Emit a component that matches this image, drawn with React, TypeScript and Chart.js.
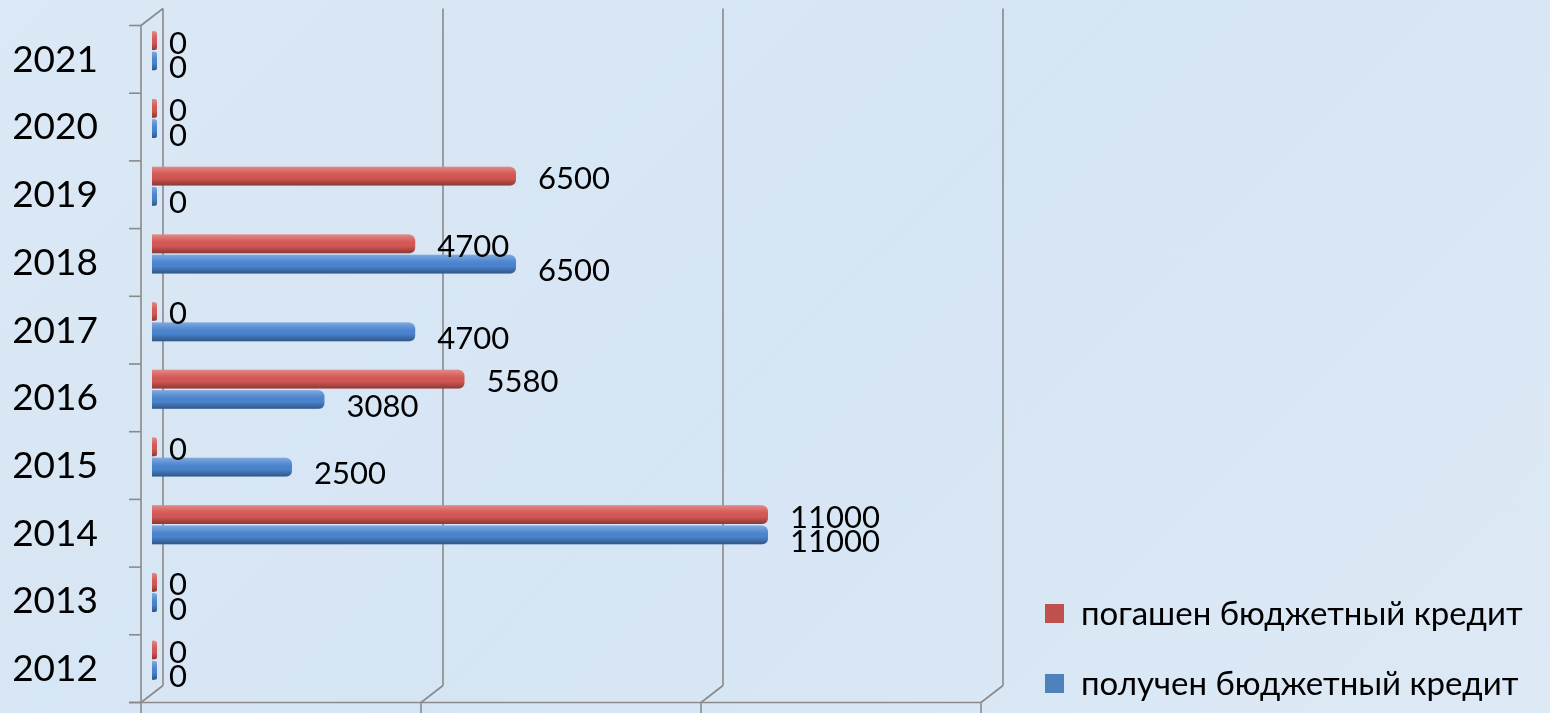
import React, { useEffect, useRef } from "react";
import { Chart, registerables } from "chart.js";

Chart.register(...registerables);

// ---- data ----
const years = ["2012", "2013", "2014", "2015", "2016", "2017", "2018", "2019", "2020", "2021"];
const repaid = [0, 0, 11000, 0, 5580, 0, 4700, 6500, 0, 0]; // погашен бюджетный кредит
const received = [0, 0, 11000, 2500, 3080, 4700, 6500, 0, 0, 0]; // получен бюджетный кредит
const seriesNames = ["погашен бюджетный кредит", "получен бюджетный кредит"];
const xTicks = [0, 5000, 10000, 15000];
const xMax = 15000;

// ---- style ----
const FONT = "Lato, 'Open Sans', 'Noto Sans', sans-serif";
const RED = "#D55753";
const BLUE = "#4A84CF";
const LEGEND_RED = "#C0504D";
const LEGEND_BLUE = "#4F81BD";
const LINE = "#8a8a8a";
const DX = 11;
const DY = 8.5;

const framePlugin = {
  id: "frame3d",
  beforeDatasetsDraw(chart: any) {
    const { ctx, chartArea } = chart;
    const xs = chart.scales.x;
    const { left, top, bottom } = chartArea;
    ctx.save();
    ctx.strokeStyle = LINE;
    ctx.lineWidth = 1.6;
    const line = (x1: number, y1: number, x2: number, y2: number) => {
      ctx.beginPath();
      ctx.moveTo(x1, y1);
      ctx.lineTo(x2, y2);
      ctx.stroke();
    };
    // back wall grid lines + floor diagonals + front ticks
    xTicks.forEach((v) => {
      const px = xs.getPixelForValue(v);
      line(px + DX, top - DY, px + DX, bottom - DY);
      line(px + DX, bottom - DY, px - DX, bottom + DY);
      line(px - DX, bottom + DY, px - DX, bottom + DY + 14);
    });
    // left wall front edge and top diagonal
    const fx = left - DX;
    line(fx, top + DY, fx, bottom + DY);
    line(fx, top + DY, left + DX, top - DY);
    // floor front edge
    line(fx - 12, bottom + DY, xs.getPixelForValue(xMax) - DX, bottom + DY);
    // category ticks on the front edge
    const n = years.length;
    for (let i = 0; i <= n; i++) {
      const y = top + (i * (bottom - top)) / n + DY;
      line(fx - 12, y, fx, y);
    }
    ctx.restore();
  },
  afterDatasetsDraw(chart: any) {
    const { ctx } = chart;
    ctx.save();
    chart.data.datasets.forEach((ds: any, di: number) => {
      const meta = chart.getDatasetMeta(di);
      meta.data.forEach((el: any) => {
        const p = el.getProps(["x", "y", "base", "height"], true);
        const h = p.height;
        const t = p.y - h / 2;
        const l = Math.min(p.base, p.x);
        const w = Math.abs(p.x - p.base);
        const g = ctx.createLinearGradient(0, t, 0, t + h);
        g.addColorStop(0, "rgba(255,255,255,0.30)");
        g.addColorStop(0.3, "rgba(255,255,255,0.08)");
        g.addColorStop(0.6, "rgba(0,0,0,0)");
        g.addColorStop(1, "rgba(0,0,0,0.35)");
        ctx.fillStyle = g;
        const r = Math.min(5, w / 2, h / 2);
        ctx.beginPath();
        (ctx as any).roundRect(l, t, w, h, [0, r, r, 0]);
        ctx.fill();
      });
    });
    ctx.restore();
  },
};

const labelPlugin = {
  id: "valueLabels",
  afterDatasetsDraw(chart: any) {
    const { ctx } = chart;
    ctx.save();
    ctx.font = `31px ${FONT}`;
    ctx.fillStyle = "#000";
    ctx.textAlign = "left";
    ctx.textBaseline = "middle";
    chart.data.datasets.forEach((ds: any, di: number) => {
      const meta = chart.getDatasetMeta(di);
      meta.data.forEach((el: any, i: number) => {
        const p = el.getProps(["x", "y"], true);
        const dy = di === 0 ? 3 : 7;
        const dx = ds.data[i] === 0 ? 12 : 22;
        ctx.fillText(String(ds.data[i]), p.x + dx, p.y + dy);
      });
    });
    ctx.restore();
  },
};

const legendPlugin = {
  id: "customLegend",
  afterDraw(chart: any) {
    const { ctx } = chart;
    ctx.save();
    ctx.font = `33px ${FONT}`;
    ctx.textAlign = "left";
    ctx.textBaseline = "middle";
    chart.data.datasets.forEach((ds: any, di: number) => {
      const cy = 613 + di * 70;
      ctx.fillStyle = ds.legendColor;
      ctx.fillRect(1045, cy - 9, 19, 19);
      ctx.fillStyle = "#000";
      ctx.fillText(ds.label, 1081, cy + 1);
    });
    ctx.restore();
  },
};

export default function App() {
  const ref = useRef<HTMLCanvasElement | null>(null);
  useEffect(() => {
    if (!ref.current) return;
    const chart = new Chart(ref.current, {
      type: "bar",
      data: {
        labels: years,
        datasets: [
          {
            label: seriesNames[0],
            data: repaid,
            backgroundColor: RED,
            legendColor: LEGEND_RED,
            borderRadius: 6,
            minBarLength: 5,
          } as any,
          {
            label: seriesNames[1],
            data: received,
            backgroundColor: BLUE,
            legendColor: LEGEND_BLUE,
            borderRadius: 6,
            minBarLength: 5,
          } as any,
        ],
      },
      options: {
        indexAxis: "y",
        animation: false,
        responsive: true,
        maintainAspectRatio: false,
        categoryPercentage: 0.6,
        barPercentage: 0.92,
        layout: { padding: { top: 17, bottom: 19, left: 0, right: 558 } },
        plugins: { legend: { display: false }, tooltip: { enabled: false } },
        scales: {
          x: { display: false, min: 0, max: xMax },
          y: {
            reverse: true,
            afterFit: (s: any) => {
              s.width = 152;
              s.paddingTop = 0;
              s.paddingBottom = 0;
            },
            grid: { display: false, drawTicks: false },
            border: { display: false },
            ticks: {
              padding: 54,
              labelOffset: 9,
              color: "#000",
              font: { family: FONT, size: 37 },
            },
          },
        },
      } as any,
      plugins: [framePlugin, labelPlugin, legendPlugin],
    });
    return () => chart.destroy();
  }, []);
  return (
    <div
      style={{
        position: "fixed",
        left: 0,
        top: 0,
        width: 1550,
        height: 713,
        background: "linear-gradient(135deg, #dbe8f5 0%, #d6e5f4 50%, #dde9f5 100%)",
      }}
    >
      <canvas ref={ref} />
    </div>
  );
}
